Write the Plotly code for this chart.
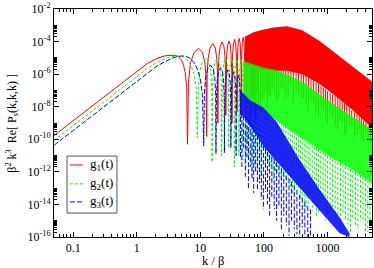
import plotly.graph_objects as go

# ---------------- data ----------------
# g1 (red): smooth rise + resolved arches (k, value)
g1_k = [0.05, 0.1, 0.2, 0.5, 1.0, 1.5, 2.0, 2.5, 3.0, 3.5, 4.0, 4.5, 5.0, 5.4, 5.8, 6.1, 6.28,
        6.5, 7.0, 8.0, 9.4, 10.8, 11.8, 12.3, 12.57,
        12.8, 13.3, 14.2, 15.7, 17.2, 18.1, 18.6, 18.85,
        19.1, 19.6, 20.5, 22.0, 23.5, 24.4, 24.9, 25.13,
        25.4, 25.9, 26.8, 28.3, 29.8, 30.7, 31.2, 31.42,
        31.7, 32.2, 33.1, 34.6, 36.1, 37.0, 37.5, 37.7,
        38.0, 38.5, 39.4, 40.8, 42.3, 43.2, 43.7, 43.98,
        44.3, 44.8, 45.7, 47.1, 48.6, 49.5, 50.0, 50.27]
g1_p = [1.7e-10, 1.4e-9, 1.1e-8, 1.7e-7, 1.6e-6, 4.8e-6, 8.5e-6, 1.2e-5, 1.4e-5, 1.5e-5, 1.45e-5, 1.2e-5, 8e-6, 4e-6, 1.2e-6, 1.5e-7, 5e-11,
        3e-7, 5e-6, 2.2e-5, 3.8e-5, 2.2e-5, 5e-6, 6e-7, 1.5e-10,
        1.3e-6, 1e-5, 4e-5, 7.6e-5, 4e-5, 1e-5, 1.3e-6, 1e-9,
        1.6e-6, 1.2e-5, 5e-5, 9.5e-5, 5e-5, 1.2e-5, 1.6e-6, 3e-9,
        1.8e-6, 1.4e-5, 5.8e-5, 1.1e-4, 5.8e-5, 1.4e-5, 1.8e-6, 1e-9,
        2.2e-6, 1.7e-5, 7e-5, 1.35e-4, 7e-5, 1.7e-5, 2.2e-6, 5e-9,
        2.5e-6, 2e-5, 8e-5, 1.55e-4, 8e-5, 2e-5, 2.5e-6, 2e-9,
        3e-6, 2.3e-5, 9e-5, 1.8e-4, 9e-5, 2.3e-5, 3e-6, 5e-9]
# g1 dense band (k, upper envelope, lower solid edge)
g1_band_k = [50, 70, 100, 140, 230, 400, 750, 1400, 2500, 5000]
g1_band_hi = [2.0e-4, 3.9e-4, 5.5e-4, 7.2e-4, 8.7e-4, 5e-4, 1.1e-4, 1.6e-5, 2.8e-6, 3.5e-7]
g1_band_lo = [4e-6, 2.5e-6, 1.8e-6, 1.6e-6, 1.6e-6, 1e-6, 2.5e-7, 4e-8, 6e-9, 5e-10]
# g1 spikes below the band (k, top, bottom)
g1_spk_k = [53, 56, 60, 63, 66, 69, 72, 75, 79, 82, 88, 94, 100, 107, 113, 120, 126, 135, 145, 157, 170, 185,
            200, 220, 240, 265, 290, 320, 350, 385, 420, 460, 500, 550, 600, 660,
            720, 790, 860, 930, 1000, 1100, 1200, 1320, 1450, 1570, 1700, 1850, 2000, 2200,
            2400, 2650, 2900, 3150, 3400, 3700, 4000, 4350, 4700]
g1_spk_hi = [3.5e-6, 3.2e-6, 3e-6, 2.8e-6, 2.6e-6, 2.5e-6, 2.4e-6, 2.3e-6, 2.2e-6, 2.1e-6, 2e-6, 1.9e-6, 1.8e-6, 1.7e-6, 1.7e-6, 1.6e-6, 1.6e-6, 1.6e-6, 1.6e-6, 1.6e-6, 1.6e-6, 1.6e-6,
             1.6e-6, 1.6e-6, 1.6e-6, 1.5e-6, 1.4e-6, 1.3e-6, 1.2e-6, 1.1e-6, 1e-6, 8e-7, 6.5e-7, 5e-7, 4e-7, 3.2e-7,
             2.5e-7, 2e-7, 1.5e-7, 1.2e-7, 9e-8, 7e-8, 5.5e-8, 4.5e-8, 4e-8, 3e-8, 2.2e-8, 1.6e-8, 1.2e-8, 9e-9,
             6e-9, 4.5e-9, 3.5e-9, 2.6e-9, 2e-9, 1.4e-9, 1e-9, 7e-10, 5e-10]
g1_spk_lo = [3e-9, 2e-8, 6e-10, 5e-9, 4e-8, 1e-8, 3e-9, 1.5e-9, 6e-8, 1.2e-8, 5e-9, 3e-8, 2.5e-8, 8e-8, 8e-9, 5e-8, 4e-8, 1.5e-7, 6e-8, 2e-8, 2.5e-8, 1.5e-7,
             1e-7, 3e-8, 5e-8, 2e-7, 1.6e-8, 8e-8, 6e-8, 3e-8, 3e-8, 1.2e-8, 5e-9, 2e-8, 1.6e-8, 4e-9,
             2.5e-9, 8e-9, 6e-9, 2e-9, 1e-9, 3e-9, 2e-9, 6e-10, 4e-10, 1.5e-9, 1e-9, 2e-10, 2.5e-10, 7e-10,
             6e-10, 1.2e-10, 1.6e-10, 4e-10, 1e-10, 7e-11, 3e-10, 8e-11, 5e-11]

# g2 (green)
g2_k = [0.05, 0.1, 0.2, 0.5, 1.0, 1.5, 2.0, 2.5, 3.0, 3.5, 4.0, 4.5, 5.0, 5.5, 6.0, 7.0, 8.0, 8.6, 9.0,
        9.3, 9.8, 10.7, 12.2, 13.7, 14.6, 15.1, 15.3,
        15.6, 16.1, 17.0, 18.5, 20.0, 20.9, 21.4, 21.6,
        21.9, 22.4, 23.3, 24.8, 26.3, 27.2, 27.7, 27.9,
        28.2, 28.7, 29.6, 31.1, 32.6, 33.5, 34.0, 34.2,
        34.5, 35.0, 35.9, 37.4, 38.9, 39.8, 40.3, 40.5,
        40.8, 41.3, 42.2, 43.7, 45.2, 46.1, 46.6, 46.8]
g2_p = [8.5e-11, 7e-10, 5.5e-9, 8.5e-8, 7.5e-7, 2.4e-6, 4.8e-6, 7.5e-6, 1.0e-5, 1.2e-5, 1.3e-5, 1.3e-5, 1.25e-5, 1.1e-5, 8.5e-6, 4e-6, 1e-6, 1.5e-7, 1.2e-10,
        2e-7, 1.5e-6, 5e-6, 1e-5, 5e-6, 1.5e-6, 2e-7, 4e-12,
        2e-7, 1.5e-6, 5e-6, 1e-5, 5e-6, 1.5e-6, 2e-7, 1e-11,
        1.9e-7, 1.4e-6, 4.7e-6, 9.3e-6, 4.7e-6, 1.4e-6, 1.9e-7, 3e-11,
        1.8e-7, 1.3e-6, 4.4e-6, 8.6e-6, 4.4e-6, 1.3e-6, 1.8e-7, 2e-12,
        1.7e-7, 1.2e-6, 4.1e-6, 8e-6, 4.1e-6, 1.2e-6, 1.7e-7, 1e-11,
        1.6e-7, 1.1e-6, 3.8e-6, 7.2e-6, 3.8e-6, 1.1e-6, 1.6e-7, 5e-12]
g2_band_k = [47, 70, 100, 150, 230, 327, 400, 1000, 2500, 5000]
g2_band_hi = [6.5e-6, 4e-6, 2.5e-6, 1.8e-6, 1.0e-6, 5e-7, 3.5e-7, 2.6e-8, 2.5e-9, 3.9e-10]
g2_band_lo = [3e-8, 1e-8, 5e-9, 1.8e-9, 5e-10, 2.2e-10, 1.4e-10, 1e-11, 1.3e-12, 1.9e-13]
g2_spk_k = [52, 55, 58, 61, 64, 67, 71, 75, 80, 85, 90, 97, 105, 112, 120, 130, 140, 152, 165, 178, 190, 205, 220, 240, 260, 280, 300, 325, 350,
            375, 400, 430, 460, 495, 530, 575, 620, 670, 720, 780, 850, 920, 1000, 1100, 1200, 1320, 1450, 1600, 1750, 1920, 2100, 2300, 2500,
            2750, 3000, 3300, 3600, 3950, 4300, 4650]
g2_spk_hi = [2.5e-8, 2.2e-8, 2e-8, 1.8e-8, 1.6e-8, 1.4e-8, 1.2e-8, 1e-8, 9e-9, 8e-9, 7e-9, 6e-9, 5e-9, 4.2e-9, 3.5e-9, 3e-9, 2.5e-9, 2e-9, 1.6e-9, 1.3e-9, 1e-9, 8.5e-10, 7e-10, 5.5e-10, 4.5e-10, 3.7e-10, 3e-10, 2.6e-10, 2e-10,
             1.7e-10, 1.4e-10, 1.1e-10, 9e-11, 7.5e-11, 6e-11, 4.5e-11, 3.5e-11, 3e-11, 2.5e-11, 2e-11, 1.6e-11, 1.3e-11, 1e-11, 8e-12, 6e-12, 5e-12, 4e-12, 3.4e-12, 2.8e-12, 2.2e-12, 1.8e-12, 1.5e-12, 1.3e-12,
             1e-12, 8e-13, 6.5e-13, 5e-13, 4e-13, 3e-13, 2.4e-13]
g2_spk_lo = [2e-12, 3e-11, 8e-12, 1e-10, 6e-13, 2e-11, 3e-12, 4e-11, 1.5e-12, 1e-11, 5e-13, 2e-11, 2e-12, 6e-12, 8e-13, 3e-12, 3e-13, 1e-12, 1e-12, 4e-13, 5e-14, 6e-13, 4e-13, 2e-13, 1e-13, 5e-14, 3e-14, 1e-13, 8e-14,
             2e-14, 2e-14, 5e-15, 6e-15, 1e-14, 3e-14, 4e-15, 1e-14, 2e-15, 3e-15, 8e-15, 1e-14, 1e-15, 2e-15, 4e-15, 6e-15, 1e-15, 1.5e-15, 3e-16, 3e-15, 1e-15, 6e-16, 2e-16, 1.5e-15,
             4e-16, 3e-16, 1e-15, 8e-16, 1.5e-16, 2e-16, 6e-16]

# g3 (blue)
g3_k = [0.05, 0.1, 0.2, 0.5, 1.0, 1.5, 2.0, 2.5, 3.0, 3.5, 4.0, 4.5, 5.0, 5.5, 6.0, 7.0, 8.0, 9.0, 10.0, 10.8, 11.3,
        11.6, 12.1, 13.0, 14.5, 16.0, 16.9, 17.4, 17.6,
        17.9, 18.4, 19.3, 20.8, 22.3, 23.2, 23.7, 23.9,
        24.2, 24.7, 25.6, 27.1, 28.6, 29.5, 30.0, 30.2,
        30.5, 31.0, 31.9, 33.4, 34.9, 35.8, 36.3, 36.5,
        36.8, 37.3, 38.2, 39.7, 41.2, 42.1, 42.6, 42.8]
g3_p = [4.3e-11, 3.5e-10, 2.8e-9, 4.3e-8, 3.8e-7, 1.3e-6, 2.8e-6, 4.7e-6, 7e-6, 9e-6, 1.1e-5, 1.25e-5, 1.3e-5, 1.3e-5, 1.25e-5, 9e-6, 5e-6, 2e-6, 5e-7, 5e-8, 4e-11,
        7e-8, 6e-7, 2e-6, 3.5e-6, 2e-6, 6e-7, 7e-8, 1.3e-11,
        5e-8, 4e-7, 1.4e-6, 2.5e-6, 1.4e-6, 4e-7, 5e-8, 1.5e-11,
        3.5e-8, 2.8e-7, 1e-6, 1.8e-6, 1e-6, 2.8e-7, 3.5e-8, 3e-11,
        2.5e-8, 2e-7, 7e-7, 1.3e-6, 7e-7, 2e-7, 2.5e-8, 1e-11,
        1.8e-8, 1.4e-7, 5e-7, 9e-7, 5e-7, 1.4e-7, 1.8e-8, 6e-12]
g3_band_k = [42, 60, 99, 158, 363, 750, 1550, 2220]
g3_band_hi = [1.1e-7, 2.6e-8, 8.5e-9, 1.2e-9, 5.6e-12, 8.3e-14, 1.6e-15, 1.7e-16]
g3_band_lo = [4.9e-9, 7.8e-10, 3.5e-11, 4.3e-12, 1.1e-13, 4.3e-15, 1.7e-16, 1e-16]
g3_spk_k = [45, 48, 51, 54, 57, 61, 65, 69, 74, 79, 85, 91, 98, 106, 114, 123, 133, 145, 158, 172, 188, 205, 225,
            248, 272, 300, 330, 365, 400, 440, 490, 540]
g3_spk_hi = [4e-9, 3e-9, 2.5e-9, 2e-9, 1.5e-9, 1.1e-9, 8e-10, 5e-10, 3e-10, 1.8e-10, 1e-10, 6e-11, 4e-11, 2.5e-11, 1.7e-11, 1.1e-11, 8e-12, 6e-12, 4e-12, 2.5e-12, 1.6e-12, 1e-12, 6e-13,
             4e-13, 2.5e-13, 1.5e-13, 8e-14, 4e-14, 2.5e-14, 1.5e-14, 8e-15, 5e-15]
g3_spk_lo = [2e-12, 3e-11, 5e-13, 8e-12, 1e-13, 2e-12, 3e-13, 5e-14, 1e-12, 8e-14, 2e-13, 2e-14, 5e-15, 6e-14, 1e-14, 2e-15, 3e-14, 5e-15, 1e-15, 8e-15, 3e-16, 2e-15, 5e-16,
             1.2e-16, 1e-15, 3e-16, 1.5e-16, 1e-16, 4e-16, 1e-16, 1e-16, 1e-16]

# axis ticks
x_ticks = [0.1, 1, 10, 100, 1000]
x_ticktext = ["0.1", "1", "10", "100", "1000"]
y_exps = [-16, -14, -12, -10, -8, -6, -4, -2]
legend_names = ["g<sub>1</sub>(t)", "g<sub>2</sub>(t)", "g<sub>3</sub>(t)"]

RED = "#ff0000"
GREEN = "#00ff00"
BLUE = "#0000ff"
DASHES = ["solid", "3px,2px", "5px,2px"]
COLORS = [RED, GREEN, BLUE]


def spikes(ks, his, los):
    xs, ys = [], []
    for k, h, l in zip(ks, his, los):
        xs += [k, k, None]
        ys += [h, l, None]
    return xs, ys


fig = go.Figure()

series = [
    (g1_k, g1_p, g1_band_k, g1_band_hi, g1_band_lo, g1_spk_k, g1_spk_hi, g1_spk_lo, 1.0),
    (g2_k, g2_p, g2_band_k, g2_band_hi, g2_band_lo, g2_spk_k, g2_spk_hi, g2_spk_lo, 0.85),
    (g3_k, g3_p, g3_band_k, g3_band_hi, g3_band_lo, g3_spk_k, g3_spk_hi, g3_spk_lo, 0.85),
]

for i, (k, p, bk, bhi, blo, sk, shi, slo, op) in enumerate(series):
    col, dash = COLORS[i], DASHES[i]
    fig.add_trace(go.Scatter(
        x=bk + bk[::-1], y=bhi + blo[::-1], mode="lines", fill="toself",
        fillcolor=col, opacity=op, line=dict(width=0), showlegend=False, hoverinfo="skip"))
    sx, sy = spikes(sk, shi, slo)
    fig.add_trace(go.Scatter(x=sx, y=sy, mode="lines", line=dict(color=col, width=1, dash=dash),
                             showlegend=False, hoverinfo="skip"))
    fig.add_trace(go.Scatter(x=k, y=p, mode="lines", showlegend=False,
                             line=dict(color=col, width=1, dash=dash)))

x_minor = [m * 10.0 ** e for e in range(-2, 4) for m in range(2, 10)]
x_minor = [v for v in x_minor if 0.05 <= v <= 5000]
y_minor = []
for e in y_exps:
    for m in range(2, 11):
        v = m * 10.0 ** e
        if 1e-16 <= v <= 1e-2:
            y_minor.append(v)

serif = "Liberation Serif, Times New Roman, serif"

# manual legend (box, line samples, labels) in paper coordinates
fig.add_shape(type="rect", xref="paper", yref="paper", x0=0.041, x1=0.198, y0=0.105, y1=0.355,
              line=dict(color="#555555", width=1), fillcolor="white", layer="above")
leg_y = [0.316, 0.233, 0.154]
for i in range(3):
    fig.add_shape(type="line", xref="paper", yref="paper", x0=0.050, x1=0.091, y0=leg_y[i], y1=leg_y[i],
                  line=dict(color=COLORS[i], width=1, dash=DASHES[i]), layer="above")
    fig.add_annotation(xref="paper", yref="paper", x=0.107, y=leg_y[i], xanchor="left", yanchor="middle",
                       text=legend_names[i], showarrow=False, font=dict(family=serif, size=13, color="black"))

# axis titles
fig.add_annotation(xref="paper", yref="paper", x=0.5, y=-0.104, xanchor="center", yanchor="middle",
                   text="k / β", showarrow=False, font=dict(family=serif, size=12.5, color="black"))
fig.add_annotation(xref="paper", yref="paper", x=-0.133, y=0.5, xanchor="center", yanchor="middle",
                   textangle=-90, text="β<sup>2</sup> k<sup>3</sup>  Re[ P<sub>s</sub>(k,k,k) ]",
                   showarrow=False, font=dict(family=serif, size=12, color="black"))

fig.update_layout(
    width=374, height=268,
    margin=dict(l=54, r=2, t=9, b=31),
    paper_bgcolor="white", plot_bgcolor="white",
    font=dict(family=serif, size=12, color="black"),
    showlegend=False,
)
fig.update_xaxes(
    type="log", range=[-1.30103, 3.69897], automargin=False,
    tickmode="array", tickvals=x_ticks, ticktext=x_ticktext,
    ticks="inside", ticklen=5, tickcolor="black", showline=True, linecolor="black", linewidth=1,
    mirror="allticks", showgrid=False, zeroline=False,
    minor=dict(tickmode="array", tickvals=x_minor, ticks="inside", ticklen=3, tickcolor="black", showgrid=False),
    tickfont=dict(family=serif, size=12),
)
fig.update_yaxes(
    type="log", range=[-16, -2], automargin=False,
    tickmode="array", tickvals=[10.0 ** e for e in y_exps],
    ticktext=["10<sup>%d</sup>" % e for e in y_exps],
    ticks="inside", ticklen=5, tickcolor="black", showline=True, linecolor="black", linewidth=1,
    mirror="allticks", showgrid=False, zeroline=False,
    minor=dict(tickmode="array", tickvals=y_minor, ticks="inside", ticklen=3, tickcolor="black", showgrid=False),
    tickfont=dict(family=serif, size=12),
)

fig.write_html("out.html", config={"displayModeBar": False},
               post_script="document.body.style.margin='0px';document.body.style.padding='0px';")
